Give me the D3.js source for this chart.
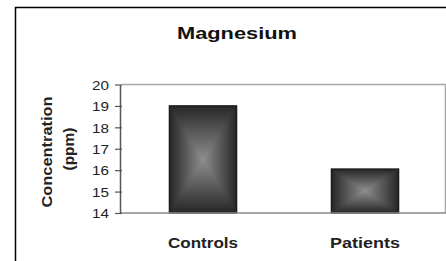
<!DOCTYPE html>
<html>
<head>
<meta charset="utf-8">
<script src="https://cdn.jsdelivr.net/npm/d3@7"></script>
<style>
  body { margin: 0; background: #fff; }
  svg { display: block; font-family: "Liberation Sans", Arial, sans-serif; }
</style>
</head>
<body>
<div id="chart"></div>
<script>
const categories = ['Controls', 'Patients'];
const values = [19.0, 16.05];
const yTicks = [14, 15, 16, 17, 18, 19, 20];
const chartTitle = 'Magnesium';
const yLabelLines = ['Concentration', '(ppm)'];

const width = 446, height = 261;
const svg = d3.select('#chart').append('svg').attr('width', width).attr('height', height);

// rectangular "from centre" fill: four triangles, each with its own linear gradient
const defs = svg.append('defs');
const dark = '#262626', light = '#8e8e8e';
[['gTop', 0, 0, 0, 1, dark, light], ['gBot', 0, 0, 0, 1, light, dark],
 ['gLeft', 0, 0, 1, 0, dark, light], ['gRight', 0, 0, 1, 0, light, dark]].forEach(([id, x1, y1, x2, y2, c0, c1]) => {
    const g = defs.append('linearGradient').attr('id', id)
        .attr('x1', x1).attr('y1', y1).attr('x2', x2).attr('y2', y2);
    g.append('stop').attr('offset', 0).attr('stop-color', c0);
    g.append('stop').attr('offset', 1).attr('stop-color', c1);
});
// underlay so the seams between triangles don't show white
const rad = defs.append('radialGradient').attr('id', 'gBase');
rad.append('stop').attr('offset', 0).attr('stop-color', light);
rad.append('stop').attr('offset', 1).attr('stop-color', dark);

// outer frame
svg.append('path').attr('d', 'M15.5,261 V7.5 H446').attr('fill', 'none').attr('stroke', '#000').attr('stroke-width', 1.5);

const x = d3.scaleBand().domain(categories).range([122, 446]).paddingInner(0.586).paddingOuter(0.293);
const y = d3.scaleLinear().domain([14, 20]).range([213, 84.5]);

// plot area border (top / right)
svg.append('path').attr('d', `M122,${y(20)} H445.5 V${y(14)}`).attr('fill', 'none').attr('stroke', '#a8a8a8').attr('stroke-width', 1.5);

// bars
const bars = svg.selectAll('.bar').data(categories).join('g').attr('class', 'bar');
bars.each(function (c, i) {
    const g = d3.select(this);
    const x0 = x(c), x1 = x(c) + x.bandwidth();
    const y0 = y(values[i]), y1 = y(14);
    const cx = (x0 + x1) / 2, cy = (y0 + y1) / 2;
    g.append('rect').attr('x', x0).attr('y', y0).attr('width', x1 - x0).attr('height', y1 - y0)
        .attr('fill', 'url(#gBase)');
    const tri = [
        [[x0, y0], [x1, y0], [cx, cy], 'gTop'],
        [[x0, y1], [x1, y1], [cx, cy], 'gBot'],
        [[x0, y0], [x0, y1], [cx, cy], 'gLeft'],
        [[x1, y0], [x1, y1], [cx, cy], 'gRight']
    ];
    tri.forEach(t => {
        g.append('polygon').attr('points', t.slice(0, 3).map(p => p.join(',')).join(' '))
            .attr('fill', `url(#${t[3]})`);
    });
    g.append('rect').attr('x', x0).attr('y', y0).attr('width', x1 - x0).attr('height', y1 - y0)
        .attr('fill', 'none').attr('stroke', '#1c1c1c').attr('stroke-width', 1.5);
});

// x axis line
svg.append('line').attr('x1', 120).attr('x2', 446).attr('y1', y(14)).attr('y2', y(14))
    .attr('stroke', '#8a8a8a').attr('stroke-width', 1.5);

// y axis
const yAxis = svg.append('g').attr('transform', 'translate(120,0)')
    .call(d3.axisLeft(y).tickValues(yTicks).tickFormat(d3.format('d')).tickSize(5).tickSizeOuter(0).tickPadding(6));
yAxis.select('.domain').attr('stroke', '#555').attr('stroke-width', 1.5);
yAxis.selectAll('.tick line').attr('stroke', '#555').attr('stroke-width', 1.2).attr('x2', -5).attr('x1', 2);
yAxis.selectAll('.tick text').attr('font-size', 13).attr('fill', '#222')
    .attr('x', -11).attr('dy', '0.36em').attr('textLength', 17).attr('lengthAdjust', 'spacingAndGlyphs');

// title
svg.append('text').attr('x', 237).attr('y', 39).attr('text-anchor', 'middle')
    .attr('font-size', 17).attr('font-weight', 'bold').attr('fill', '#111')
    .attr('textLength', 120).attr('lengthAdjust', 'spacingAndGlyphs').text(chartTitle);

// category labels
svg.selectAll('.xlab').data(categories).join('text').attr('class', 'xlab')
    .attr('x', d => x(d) + x.bandwidth() / 2).attr('y', 248).attr('text-anchor', 'middle')
    .attr('font-size', 15).attr('font-weight', 'bold').attr('fill', '#222')
    .attr('textLength', 70).attr('lengthAdjust', 'spacingAndGlyphs').text(d => d);

// y label (two rotated lines)
const yLab = [[52, 152, 111], [74, 149, 43]];
svg.selectAll('.ylab').data(yLabelLines).join('text').attr('class', 'ylab')
    .attr('transform', (d, i) => `translate(${yLab[i][0]},${yLab[i][1]}) rotate(-90)`)
    .attr('text-anchor', 'middle').attr('font-size', 15).attr('font-weight', 'bold').attr('fill', '#222')
    .attr('textLength', (d, i) => yLab[i][2]).attr('lengthAdjust', 'spacingAndGlyphs').text(d => d);
</script>
</body>
</html>
